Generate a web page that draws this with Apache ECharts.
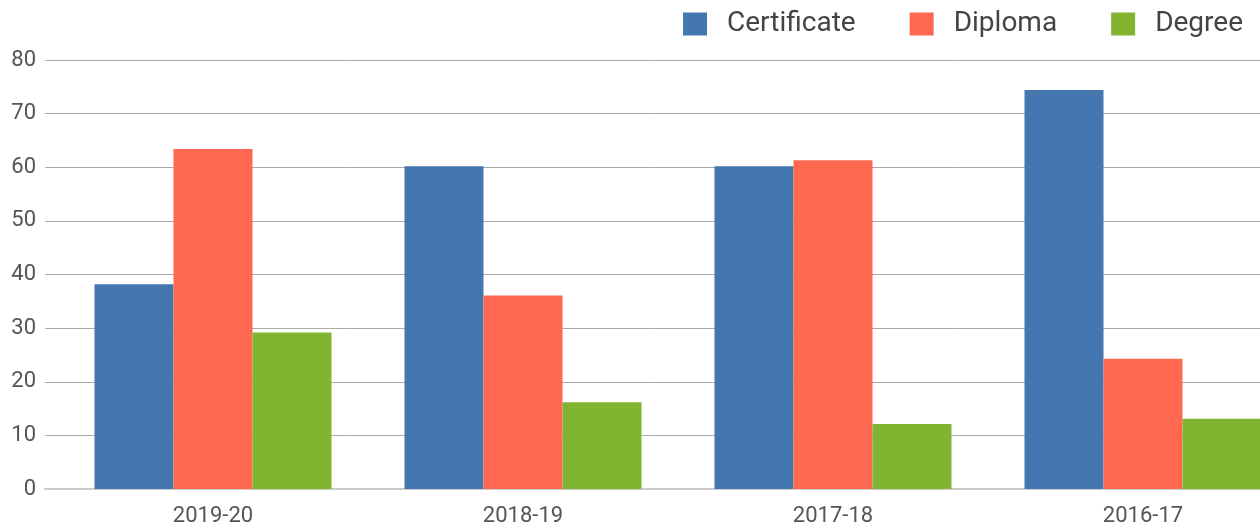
<!DOCTYPE html>
<html>
<head>
<meta charset="utf-8">
<script src="https://cdn.jsdelivr.net/npm/echarts@6/dist/echarts.min.js"></script>
<style>
  html, body { margin: 0; padding: 0; background: #fff; overflow: hidden; }
  /* the last group of bars runs past the right edge, so the chart is wider than the window */
  #chart { width: 1298px; height: 529px; }
</style>
</head>
<body>
<div id="chart"></div>
<script>
// data
const years = ['2019-20', '2018-19', '2017-18', '2016-17']
const certificate = [38.2, 60.2, 60.2, 74.4]
const diploma = [63.4, 36.1, 61.3, 24.3]
const degree = [29.2, 16.2, 12.1, 13.1]
const yTicks = { min: 0, max: 80, interval: 10 }

const chart = echarts.init(document.getElementById('chart'))
const font = 'Roboto, "Noto Sans", sans-serif'

chart.setOption({
    animation: false,
    color: ['#4477b0', '#ff6951', '#80b431'],
    textStyle: { fontFamily: font },
    legend: {
        top: 5,
        right: 50,
        itemWidth: 24,
        itemHeight: 23,
        itemGap: 54,
        icon: 'rect',
        textStyle: { fontSize: 28, color: '#444', padding: [0, 0, 0, 15] },
        data: ['Certificate', 'Diploma', 'Degree']
    },
    grid: [
        // gridlines and y labels, ending at the window edge
        { left: 45, right: 38, top: 60, bottom: 40 },
        // bars
        { left: 58, right: 0, top: 60, bottom: 40 }
    ],
    xAxis: [
        {
            gridIndex: 0,
            type: 'category',
            data: years,
            axisLine: { show: true, lineStyle: { color: '#cccccc', width: 2 } },
            axisTick: { show: false },
            axisLabel: { show: false }
        },
        {
            gridIndex: 1,
            type: 'category',
            data: years,
            axisLine: { show: false },
            axisTick: { show: false },
            axisLabel: { fontSize: 22, color: '#555', margin: 16 }
        }
    ],
    yAxis: [
        {
            gridIndex: 0,
            type: 'value',
            min: yTicks.min,
            max: yTicks.max,
            interval: yTicks.interval,
            axisLine: { show: false },
            axisTick: { show: false },
            axisLabel: { fontSize: 22, color: '#555', margin: 9 },
            splitLine: { lineStyle: { color: '#aaaaaa', width: 1 } }
        },
        {
            gridIndex: 1,
            type: 'value',
            min: yTicks.min,
            max: yTicks.max,
            interval: yTicks.interval,
            show: false,
            splitLine: { show: false }
        }
    ],
    series: [
        { name: 'Certificate', type: 'bar', xAxisIndex: 1, yAxisIndex: 1, data: certificate, barWidth: 79, barGap: '0%' },
        { name: 'Diploma', type: 'bar', xAxisIndex: 1, yAxisIndex: 1, data: diploma, barWidth: 79, barGap: '0%' },
        { name: 'Degree', type: 'bar', xAxisIndex: 1, yAxisIndex: 1, data: degree, barWidth: 79, barGap: '0%' }
    ]
})
</script>
</body>
</html>
